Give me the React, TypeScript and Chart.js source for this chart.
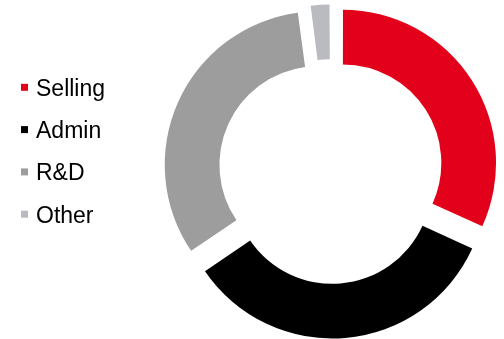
import React, { useEffect, useRef } from "react";
import { Chart, registerables } from "chart.js";

Chart.register(...registerables);

const categories = ["Selling", "Admin", "R&D", "Other"];
const shares = [31.8, 33.7, 32.4, 2.1];
const colors = ["#E2001A", "#000000", "#9D9D9D", "#B9BBC0"];
const explode = [56, 56, 56, 30];

const legendPlugin = {
  id: "sideLegend",
  afterDraw(chart: any) {
    const ctx = chart.ctx;
    const labels: string[] = chart.data.labels;
    const bg: string[] = chart.data.datasets[0].backgroundColor;
    ctx.save();
    ctx.font = '23px "Liberation Sans", Arial, sans-serif';
    ctx.textBaseline = "alphabetic";
    ctx.textAlign = "left";
    labels.forEach((lab, i) => {
      const cy = 87.3 + i * 42.3;
      ctx.fillStyle = bg[i];
      ctx.fillRect(21, cy - 3.5, 7, 7);
      ctx.fillStyle = "#000000";
      ctx.fillText(lab, 36, cy + 8.5);
    });
    ctx.restore();
  },
};

export default function App() {
  const ref = useRef<HTMLCanvasElement | null>(null);
  useEffect(() => {
    if (!ref.current) return;
    const chart = new Chart(ref.current, {
      type: "doughnut",
      data: {
        labels: categories,
        datasets: [
          {
            data: shares,
            backgroundColor: colors,
            borderWidth: 0,
            offset: explode,
            hoverOffset: 0,
            radius: 152,
            cutout: "64%",
          } as any,
        ],
      },
      options: {
        responsive: false,
        animation: false,
        events: [],
        layout: { padding: { left: 158, top: 2, right: 0, bottom: 0 } },
        plugins: { legend: { display: false }, tooltip: { enabled: false } },
      },
      plugins: [legendPlugin],
    });
    return () => chart.destroy();
  }, []);
  return (
    <div style={{ position: "absolute", left: 0, top: 0, width: 504, height: 339, background: "#fff" }}>
      <canvas ref={ref} width={504} height={339} style={{ display: "block" }} />
    </div>
  );
}
